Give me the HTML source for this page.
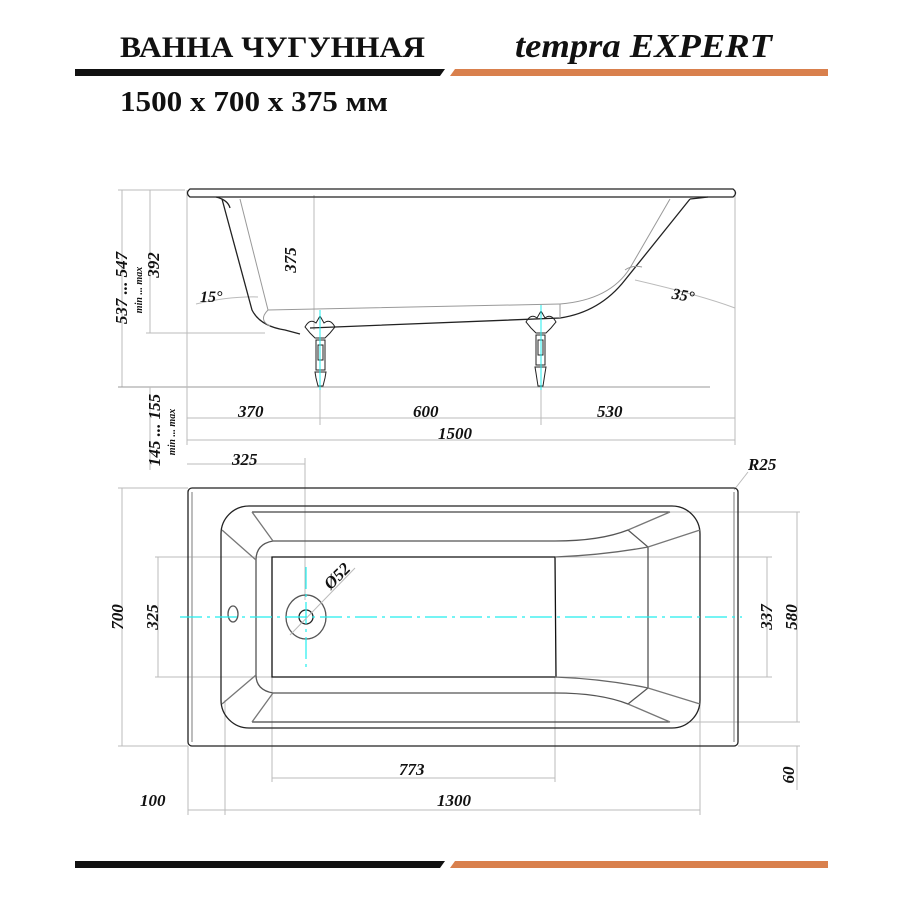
<!DOCTYPE html>
<html><head><meta charset="utf-8"><style>
body{margin:0;background:#fff}
svg{display:block}
text{font-family:"Liberation Serif",serif;font-style:italic;font-weight:bold;fill:#111}
</style></head><body>
<svg width="900" height="900" viewBox="0 0 900 900" xmlns="http://www.w3.org/2000/svg">
<!-- header -->
<text x="120" y="57" font-size="30" style="font-style:normal" textLength="305" lengthAdjust="spacingAndGlyphs">ВАННА ЧУГУННАЯ</text>
<text x="515" y="57" font-size="34" textLength="257" lengthAdjust="spacingAndGlyphs">tempra EXPERT</text>
<polygon points="75,69 445,69 440,76 75,76" fill="#111"/>
<polygon points="455,69 828,69 828,76 450,76" fill="#d9804d"/>
<text x="120" y="111" font-size="29" style="font-style:normal" textLength="268" lengthAdjust="spacingAndGlyphs">1500 х 700 х 375 мм</text>
<polygon points="75,861 445,861 440,868 75,868" fill="#111"/>
<polygon points="455,861 828,861 828,868 450,868" fill="#d9804d"/>

<g fill="none" stroke="#bbb" stroke-width="1">
<line x1="118" y1="190" x2="185" y2="190"/>
<line x1="122" y1="190" x2="122" y2="387"/>
<line x1="118" y1="387" x2="710" y2="387" stroke="#999"/>
<line x1="150" y1="190" x2="150" y2="333"/>
<line x1="146" y1="333" x2="265" y2="333"/>
<line x1="150" y1="387" x2="150" y2="470"/>
<line x1="187" y1="190" x2="187" y2="445"/>
<line x1="735" y1="190" x2="735" y2="445"/>
<line x1="314" y1="195" x2="314" y2="330"/>
<line x1="187" y1="418" x2="735" y2="418"/>
<line x1="320" y1="387" x2="320" y2="425"/>
<line x1="541" y1="387" x2="541" y2="425"/>
<line x1="187" y1="440" x2="735" y2="440"/>
<line x1="187" y1="464" x2="305" y2="464"/>
<line x1="305" y1="458" x2="305" y2="600"/>
<path d="M196,304 Q230,296 258,297"/>
<path d="M635,280 Q700,295 735,308"/>
<line x1="748" y1="472" x2="734" y2="490"/>
</g>
<g fill="none" stroke="#222" stroke-width="1.3">
<path d="M190,189 L733,189 Q738,193 733,197 L190,197 Q185,193 190,189Z"/>
<path d="M216,197 Q228,200 230,208"/>
<path d="M222,199 L252,310 Q260,326 285,330 L300,334"/>
<path d="M310,328 L560,318 Q600,312 625,280 L690,199"/>
<path d="M690,199 Q700,198 708,197"/>
</g>
<g fill="none" stroke="#999" stroke-width="1">
<path d="M240,199 L268,310 L560,304"/>
<path d="M268,310 Q258,320 270,326"/>
<path d="M560,304 Q610,300 630,268 L670,199"/>
<path d="M625,270 Q632,265 642,267"/>
<line x1="560" y1="304" x2="560" y2="318"/>
</g>
<g fill="none" stroke="#222" stroke-width="1">
<path d="M305,327 Q310,318 316,323 L320,316 L324,323 Q330,318 335,327 L330,333 L325,338 L315,338 L310,333Z"/>
<rect x="316" y="340" width="9" height="30"/><rect x="318" y="345" width="5" height="15"/>
<path d="M315,372 L326,372 L325,378 L323,386 L318,386 L316,378Z"/>
<path d="M526,322 Q531,313 537,318 L541,311 L545,318 Q551,313 556,322 L551,328 L546,333 L536,333 L531,328Z"/>
<rect x="536" y="335" width="9" height="30"/><rect x="538" y="340" width="5" height="15"/>
<path d="M535,367 L546,367 L545,373 L543,386 L538,386 L536,373Z"/>
</g>
<g stroke="#2ee" stroke-width="1"><line x1="320" y1="310" x2="320" y2="390"/><line x1="541" y1="305" x2="541" y2="390"/></g>

<g fill="none" stroke="#bbb" stroke-width="1">
<line x1="118" y1="488" x2="188" y2="488"/><line x1="118" y1="746" x2="188" y2="746"/>
<line x1="122" y1="488" x2="122" y2="746"/>
<line x1="155" y1="557" x2="272" y2="557"/><line x1="155" y1="677" x2="272" y2="677"/>
<line x1="158" y1="557" x2="158" y2="677"/>
<line x1="555" y1="557" x2="772" y2="557"/><line x1="555" y1="677" x2="772" y2="677"/>
<line x1="767" y1="557" x2="767" y2="677"/>
<line x1="670" y1="512" x2="800" y2="512"/><line x1="670" y1="722" x2="800" y2="722"/>
<line x1="797" y1="512" x2="797" y2="722"/>
<line x1="738" y1="746" x2="800" y2="746"/><line x1="797" y1="746" x2="797" y2="790"/>
<line x1="272" y1="677" x2="272" y2="782"/><line x1="555" y1="677" x2="555" y2="782"/>
<line x1="272" y1="778" x2="555" y2="778"/>
<line x1="188" y1="746" x2="188" y2="815"/><line x1="225" y1="700" x2="225" y2="815"/>
<line x1="700" y1="700" x2="700" y2="815"/>
<line x1="188" y1="810" x2="700" y2="810"/>
</g>
<g fill="none" stroke="#222" stroke-width="1.3">
<rect x="188" y="488" width="550" height="258" rx="4"/>
<path d="M192,492 L192,742" stroke="#999"/><path d="M734,492 L734,742" stroke="#999"/>
<rect x="221" y="506" width="479" height="222" rx="28"/>
<path d="M252,512 L670,512" stroke="#444"/><path d="M252,722 L670,722" stroke="#444"/>
<path d="M273,541 L555,541 Q600,541 628,530 L648,547 L648,688 L628,704 Q600,693 555,693 L273,693 Q256,690 256,675 L256,560 Q256,544 273,541Z" stroke="#555"/>
<path d="M272,557 L555,557 L556,677 L272,677 Z" stroke="#111"/>
<path d="M555,557 Q605,555 648,547 M555,677 Q605,679 648,688" stroke="#666"/>
<path d="M222,530 L256,560 M222,704 L256,675 M252,512 L273,541 M252,722 L273,693 M670,512 L628,530 M670,722 L628,704 M700,530 L648,547 M700,704 L648,688" stroke="#777"/>
<ellipse cx="306" cy="617" rx="20" ry="22" stroke="#555"/>
<circle cx="306" cy="617" r="7"/>
<ellipse cx="233" cy="614" rx="5" ry="8" stroke="#555"/>
</g>
<g stroke="#2ee" stroke-width="1.2">
<line x1="180" y1="617" x2="742" y2="617" stroke-dasharray="22,5,3,5"/>
<line x1="306" y1="567" x2="306" y2="672" stroke-dasharray="22,5,3,5"/>
</g>
<line x1="290" y1="635" x2="355" y2="568" stroke="#bbb"/>

<g font-size="17">
<text x="238" y="417">370</text><text x="413" y="417">600</text><text x="597" y="417">530</text>
<text x="438" y="439">1500</text>
<text x="232" y="465">325</text>
<text x="200" y="302" font-size="16">15°</text>
<text x="672" y="300" font-size="16" transform="rotate(10 680 295)">35°</text>
<text x="399" y="775">773</text>
<text x="437" y="806">1300</text>
<text x="140" y="806">100</text>
<text x="748" y="470">R25</text>
<text transform="translate(296,260) rotate(-90)" text-anchor="middle">375</text>
<text transform="translate(159,265) rotate(-90)" text-anchor="middle">392</text>
<text transform="translate(127,288) rotate(-90)" text-anchor="middle">537 ... 547</text>
<text transform="translate(142,290) rotate(-90)" text-anchor="middle" font-size="10">min ... max</text>
<text transform="translate(160,430) rotate(-90)" text-anchor="middle">145 ... 155</text>
<text transform="translate(175,432) rotate(-90)" text-anchor="middle" font-size="10">min ... max</text>
<text transform="translate(123,617) rotate(-90)" text-anchor="middle">700</text>
<text transform="translate(158,617) rotate(-90)" text-anchor="middle">325</text>
<text transform="translate(772,617) rotate(-90)" text-anchor="middle">337</text>
<text transform="translate(797,617) rotate(-90)" text-anchor="middle">580</text>
<text transform="translate(794,775) rotate(-90)" text-anchor="middle">60</text>
<text transform="translate(341,580) rotate(-45)" text-anchor="middle">Ø52</text>
</g>
</svg>
</body></html>
